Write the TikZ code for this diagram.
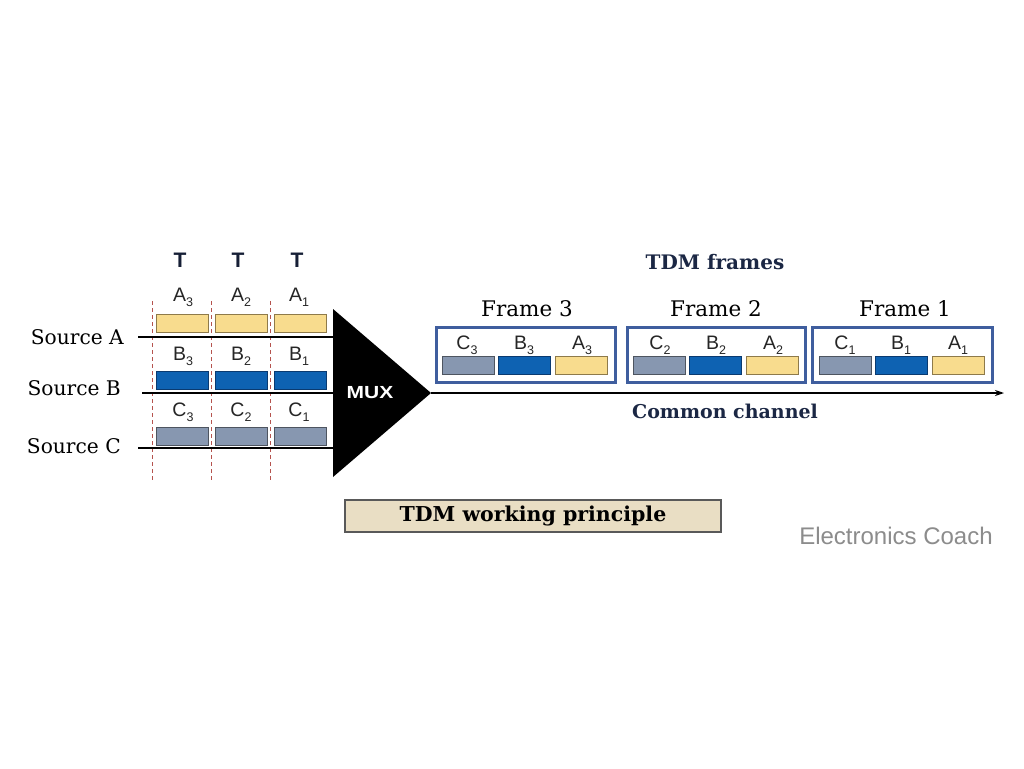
\documentclass[tikz,border=0pt]{standalone}
\usepackage{fontspec}
\setmainfont{DejaVu Serif}
\setsansfont{Liberation Sans}
\usetikzlibrary{arrows.meta}
\definecolor{slotY}{HTML}{F8DC8E}
\definecolor{slotYd}{HTML}{8E7A4A}
\definecolor{slotB}{HTML}{0E62B2}
\definecolor{slotBd}{HTML}{0A3A70}
\definecolor{slotG}{HTML}{8797B0}
\definecolor{slotGd}{HTML}{4E5560}
\definecolor{frameblue}{HTML}{3F5E9E}
\definecolor{navy}{HTML}{1B2744}
\definecolor{dashred}{HTML}{B5534E}
\definecolor{parch}{HTML}{E9DEC4}
\definecolor{wmgray}{HTML}{8C8C8C}
\newcommand{\lbl}[2]{#1\raisebox{-5pt}{\fontsize{12.5}{12.5}\selectfont #2}}
\tikzset{
  slot/.style={draw, line width=0.9pt, minimum width=52pt, minimum height=18pt, inner sep=0pt},
  ys/.style={slot, fill=slotY, draw=slotYd},
  bs/.style={slot, fill=slotB, draw=slotBd},
  gs/.style={slot, fill=slotG, draw=slotGd},
  lab/.style={font=\sffamily\fontsize{19.5}{19.5}\selectfont, inner sep=0pt, text=black!85},
  tlab/.style={font=\sffamily\bfseries\fontsize{21}{21}\selectfont, text=navy!80!black, inner sep=0pt},
  srclab/.style={font=\fontsize{20.2}{20.2}\selectfont, inner sep=0pt},
  framelab/.style={font=\fontsize{21.5}{21.5}\selectfont, inner sep=0pt},
  framebox/.style={draw=frameblue, line width=3pt, fill=white, minimum height=55pt, inner sep=0pt},
  dashline/.style={draw=dashred, line width=1.5pt, dash pattern=on 4pt off 3pt},
  srcline/.style={draw=black, line width=2pt},
}
\begin{document}
\begin{tikzpicture}[x=1pt,y=-1pt]
\useasboundingbox[fill=white] (0,0) rectangle (1024,768);

% T labels
\node[tlab] (t1) at (180,260) {T};
\node[tlab] (t2) at (238,260) {T};
\node[tlab] (t3) at (297,260) {T};

% dashed time-slot boundaries
\coordinate (d1t) at (152.5,301); \coordinate (d1b) at (152.5,481);
\coordinate (d2t) at (211.5,301); \coordinate (d2b) at (211.5,481);
\coordinate (d3t) at (270.5,301); \coordinate (d3b) at (270.5,481);
\draw[dashline] (d1t) -- (d1b);
\draw[dashline] (d2t) -- (d2b);
\draw[dashline] (d3t) -- (d3b);

% source slots
\node[ys] (a3) at (182,323) {};
\node[ys] (a2) at (241,323) {};
\node[ys] (a1) at (300,323) {};
\node[bs] (b3) at (182,380) {};
\node[bs] (b2) at (241,380) {};
\node[bs] (b1) at (300,380) {};
\node[gs] (c3) at (182,436) {};
\node[gs] (c2) at (241,436) {};
\node[gs] (c1) at (300,436) {};

\node[lab] (la3) at (183,297) {\lbl{A}{3}};
\node[lab] (la2) at (241,297) {\lbl{A}{2}};
\node[lab] (la1) at (299,297) {\lbl{A}{1}};
\node[lab] (lb3) at (183,356) {\lbl{B}{3}};
\node[lab] (lb2) at (241,356) {\lbl{B}{2}};
\node[lab] (lb1) at (299,356) {\lbl{B}{1}};
\node[lab] (lc3) at (183,412) {\lbl{C}{3}};
\node[lab] (lc2) at (241,412) {\lbl{C}{2}};
\node[lab] (lc1) at (299,412) {\lbl{C}{1}};

% MUX
\coordinate (mtl) at (333,309);
\coordinate (mbl) at (333,477);
\coordinate (mapex) at (431,393);
\fill[black] (mtl) -- (mapex) -- (mbl) -- cycle;
\node[font=\sffamily\bfseries\fontsize{17.5}{17.5}\selectfont, text=white, inner sep=0pt] (mux) at (370,393) {\scalebox{1.2}[1]{MUX}};

% sources
\node[srclab, anchor=east] (srcA) at (124,337) {Source A};
\node[srclab, anchor=east] (srcB) at (121,388) {Source B};
\node[srclab, anchor=east] (srcC) at (121,446) {Source C};
\coordinate (lA0) at (138,337); \coordinate (lA1) at (334,337);
\coordinate (lB0) at (142,393); \coordinate (lB1) at (334,393);
\coordinate (lC0) at (138,448); \coordinate (lC1) at (334,448);
\draw[srcline] (lA0) -- (lA1);
\draw[srcline] (lB0) -- (lB1);
\draw[srcline] (lC0) -- (lC1);

% common channel
\coordinate (chend) at (1004,393);
\draw[line width=1.8pt, -{Stealth[length=9pt,width=6pt]}] (mapex) -- (chend);
\node[font=\bfseries\fontsize{19}{19}\selectfont, text=navy, inner sep=0pt] (cc) at (725,411) {Common channel};

% TDM frames
\node[font=\bfseries\fontsize{20}{20}\selectfont, text=navy, inner sep=0pt] (tdmf) at (715,262) {TDM frames};

\node[framebox, minimum width=179pt] (f3) at (525.5,354.5) {};
\node[framebox, minimum width=178pt] (f2) at (716,354.5) {};
\node[framebox, minimum width=180pt] (f1) at (902,354.5) {};

\node[framelab] (f3l) at (527,309) {Frame 3};
\node[framelab] (f2l) at (716,309) {Frame 2};
\node[framelab] (f1l) at (905,309) {Frame 1};

% frame 3 slots
\node[gs] (f3c) at (468,365) {};
\node[bs] (f3b) at (524.5,365) {};
\node[ys] (f3a) at (581,365) {};
\node[lab] at (467,345) {\lbl{C}{3}};
\node[lab] at (524,345) {\lbl{B}{3}};
\node[lab] at (582,345) {\lbl{A}{3}};
% frame 2 slots
\node[gs] (f2c) at (659,365) {};
\node[bs] (f2b) at (715.5,365) {};
\node[ys] (f2a) at (772,365) {};
\node[lab] at (660,345) {\lbl{C}{2}};
\node[lab] at (716,345) {\lbl{B}{2}};
\node[lab] at (773,345) {\lbl{A}{2}};
% frame 1 slots
\node[gs] (f1c) at (845,365) {};
\node[bs] (f1b) at (901.5,365) {};
\node[ys] (f1a) at (958,365) {};
\node[lab] at (845,345) {\lbl{C}{1}};
\node[lab] at (901,345) {\lbl{B}{1}};
\node[lab] at (958,345) {\lbl{A}{1}};

% caption
\node[draw=black!65, line width=1.2pt, fill=parch, minimum width=376pt, minimum height=32pt, inner sep=0pt,
      font=\bfseries\fontsize{20.5}{20.5}\selectfont] (cap) at (533,516) {TDM working principle};

\node[font=\sffamily\fontsize{24}{24}\selectfont, text=wmgray, inner sep=0pt] (wm) at (896,536) {Electronics Coach};
\end{tikzpicture}
\end{document}
